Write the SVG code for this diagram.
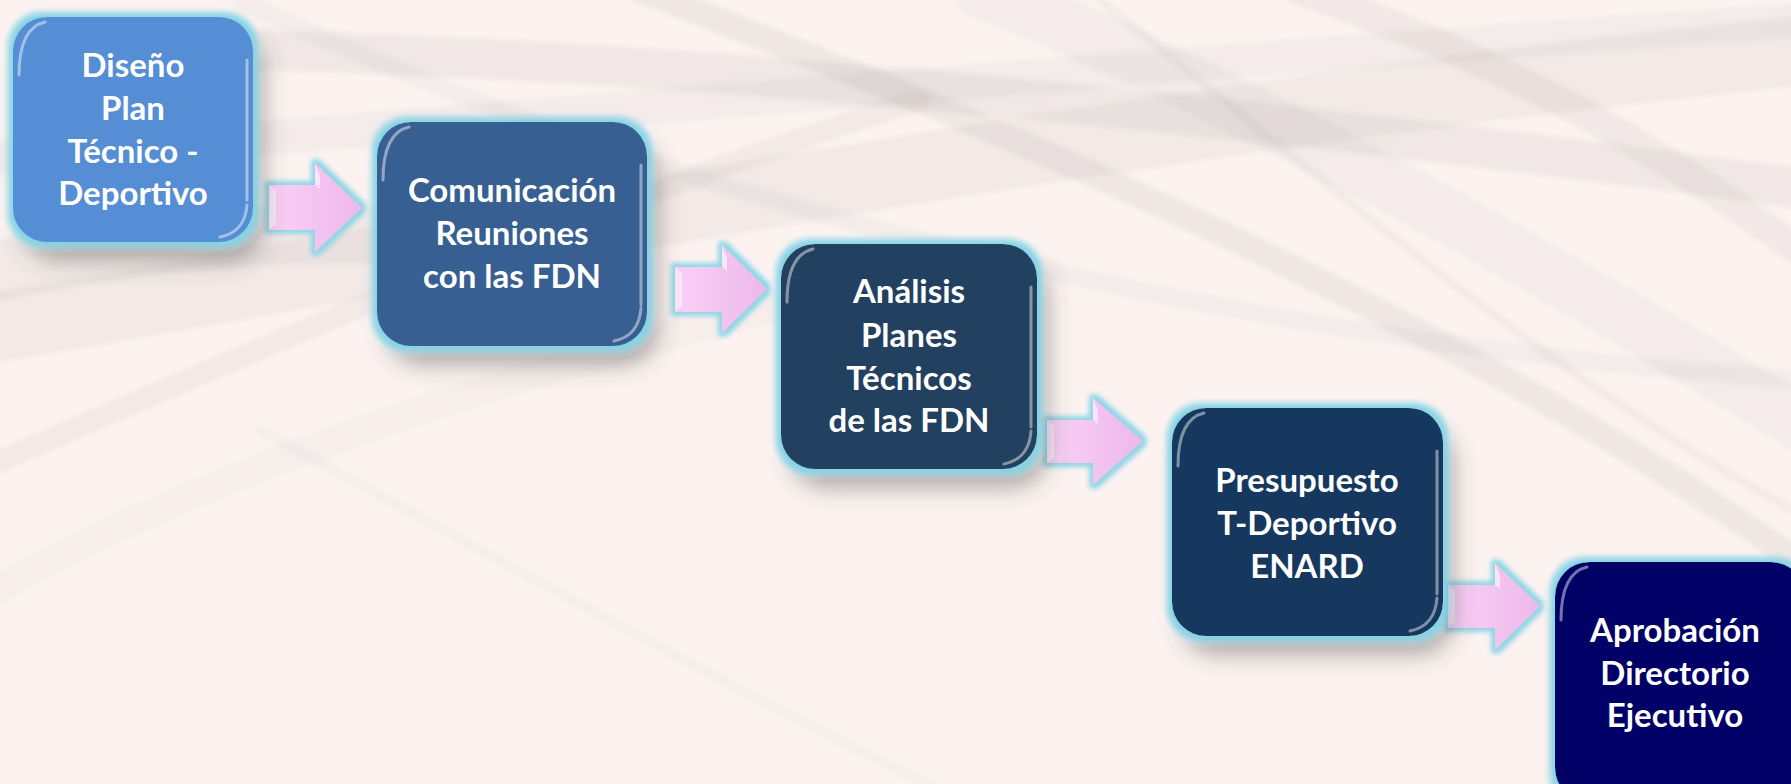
<svg xmlns="http://www.w3.org/2000/svg" width="1791" height="784" viewBox="0 0 1791 784">
<defs>
<style>
.lbl{font-family:Lato,"Open Sans","Liberation Sans",sans-serif;font-weight:700;font-size:33px;fill:#fff;text-anchor:middle}
.hl{fill:none;stroke:#fff;stroke-opacity:.45;stroke-width:3;stroke-linecap:round}
.band{fill:none;stroke:#9a9696;stroke-linecap:round}
.arr{fill:url(#pink);filter:url(#glowA)}
.bev{fill:#fff;fill-opacity:.55}
</style>
<linearGradient id="pink" x1="0" y1="0" x2="1" y2="0">
<stop offset="0" stop-color="#FAD0F7"/><stop offset="1" stop-color="#EDB8EA"/>
</linearGradient>
<filter id="glow" x="-20%" y="-20%" width="150%" height="150%">
<feGaussianBlur in="SourceAlpha" stdDeviation="12" result="sb"/>
<feOffset in="sb" dx="10" dy="18" result="so"/>
<feFlood flood-color="#4a4444" flood-opacity="0.45"/>
<feComposite in2="so" operator="in" result="shadow"/>
<feMorphology in="SourceAlpha" operator="dilate" radius="5" result="d"/>
<feGaussianBlur in="d" stdDeviation="3" result="db"/>
<feFlood flood-color="#86D4E6"/>
<feComposite in2="db" operator="in" result="g"/>
<feMerge><feMergeNode in="shadow"/><feMergeNode in="g"/><feMergeNode in="SourceGraphic"/></feMerge>
</filter>
<filter id="glowA" x="-30%" y="-30%" width="160%" height="160%">
<feMorphology in="SourceAlpha" operator="dilate" radius="4" result="d"/>
<feGaussianBlur in="d" stdDeviation="2.5" result="db"/>
<feFlood flood-color="#8FD6E6"/>
<feComposite in2="db" operator="in" result="g"/>
<feMerge><feMergeNode in="g"/><feMergeNode in="SourceGraphic"/></feMerge>
</filter>
<filter id="soft"><feGaussianBlur stdDeviation="2.5"/></filter>
</defs>

<rect width="1791" height="784" fill="#FCF3F1"/>
<g id="background" filter="url(#soft)">
<path class="band" d="M-20,330 C400,260 1100,120 1811,50" stroke-width="70" stroke-opacity=".10"/>
<path class="band" d="M250,50 C700,60 1300,120 1811,190" stroke-width="40" stroke-opacity=".12"/>
<path class="band" d="M640,-10 C900,90 1400,280 1811,570" stroke-width="26" stroke-opacity=".13"/>
<path class="band" d="M980,-10 C1300,120 1600,300 1811,430" stroke-width="55" stroke-opacity=".09"/>
<path class="band" d="M-20,470 C300,330 600,200 920,100" stroke-width="22" stroke-opacity=".10"/>
<path class="band" d="M260,430 C500,560 750,700 960,800" stroke-width="10" stroke-opacity=".07"/>
<path class="band" d="M1300,-10 C1500,60 1650,140 1811,260" stroke-width="30" stroke-opacity=".11"/>
<path class="band" d="M-20,160 C500,120 1200,60 1811,20" stroke-width="35" stroke-opacity=".09"/>
<path class="band" d="M240,0 C700,220 1300,350 1811,380" stroke-width="18" stroke-opacity=".09"/>
<path class="band" d="M-20,600 C200,470 500,380 800,300" stroke-width="30" stroke-opacity=".05"/>
<path class="band" d="M1100,0 C1350,200 1550,380 1811,520" stroke-width="8" stroke-opacity=".10"/>
<path class="band" d="M0,270 C150,240 280,230 380,235" stroke-width="60" stroke-opacity=".10"/>
</g>

<g id="connectors">
<polygon class="arr" points="269,185 315,185 315,163 362,208 315,252 315,230 269,230"/>
<polygon class="bev" points="269,185 276,191 276,224 269,230"/>
<polygon class="bev" points="315,163 320,176 320,189 315,185"/>
<polygon class="arr" points="675,267 722,267 722,245 767,289 722,333 722,312 675,312"/>
<polygon class="bev" points="675,267 682,273 682,306 675,312"/>
<polygon class="bev" points="722,245 727,258 727,271 722,267"/>
<polygon class="arr" points="1047,420 1093,420 1093,398 1143,441 1093,485 1093,463 1047,463"/>
<polygon class="bev" points="1047,420 1054,426 1054,457 1047,463"/>
<polygon class="bev" points="1093,398 1098,411 1098,424 1093,420"/>
<polygon class="arr" points="1448,585 1495,585 1495,563 1540,606 1495,650 1495,628 1448,628"/>
<polygon class="bev" points="1448,585 1455,591 1455,622 1448,628"/>
<polygon class="bev" points="1495,563 1500,576 1500,589 1495,585"/>
</g>

<g id="node1">
<rect x="13" y="17" width="240" height="225" rx="34" fill="#558ED5" filter="url(#glow)"/>
<path class="hl" d="M19,75 Q19,28 45,22"/>
<path class="hl" d="M247,60 L247,200"/>
<path class="hl" d="M247,205 Q245,232 220,237"/>
<text class="lbl" x="133" y="77">Diseño</text>
<text class="lbl" x="133" y="120">Plan</text>
<text class="lbl" x="133" y="163">Técnico -</text>
<text class="lbl" x="133" y="205">Deportivo</text>
</g>

<g id="node2">
<rect x="377" y="122" width="270" height="224" rx="34" fill="#375F92" filter="url(#glow)"/>
<path class="hl" d="M383,180 Q383,133 409,127"/>
<path class="hl" d="M641,165 L641,305"/>
<path class="hl" d="M641,308 Q639,336 614,341"/>
<text class="lbl" x="512" y="202">Comunicación</text>
<text class="lbl" x="512" y="245">Reuniones</text>
<text class="lbl" x="512" y="288">con las FDN</text>
</g>

<g id="node3">
<rect x="781" y="244" width="256" height="225" rx="34" fill="#243F60" filter="url(#glow)"/>
<path class="hl" d="M787,302 Q787,255 813,249"/>
<path class="hl" d="M1031,287 L1031,427"/>
<path class="hl" d="M1031,431 Q1029,459 1004,464"/>
<text class="lbl" x="909" y="303">Análisis</text>
<text class="lbl" x="909" y="347">Planes</text>
<text class="lbl" x="909" y="390">Técnicos</text>
<text class="lbl" x="909" y="432">de las FDN</text>
</g>

<g id="node4">
<rect x="1172" y="408" width="271" height="228" rx="34" fill="#17375E" filter="url(#glow)"/>
<path class="hl" d="M1178,466 Q1178,419 1204,413"/>
<path class="hl" d="M1437,451 L1437,594"/>
<path class="hl" d="M1437,598 Q1435,626 1410,631"/>
<text class="lbl" x="1307" y="492">Presupuesto</text>
<text class="lbl" x="1307" y="535">T-Deportivo</text>
<text class="lbl" x="1307" y="578">ENARD</text>
</g>

<g id="node5">
<rect x="1555" y="562" width="250" height="240" rx="34" fill="#000066" filter="url(#glow)"/>
<path class="hl" d="M1561,620 Q1561,573 1587,567"/>
<text class="lbl" x="1675" y="642">Aprobación</text>
<text class="lbl" x="1675" y="685">Directorio</text>
<text class="lbl" x="1675" y="727">Ejecutivo</text>
</g>
</svg>
